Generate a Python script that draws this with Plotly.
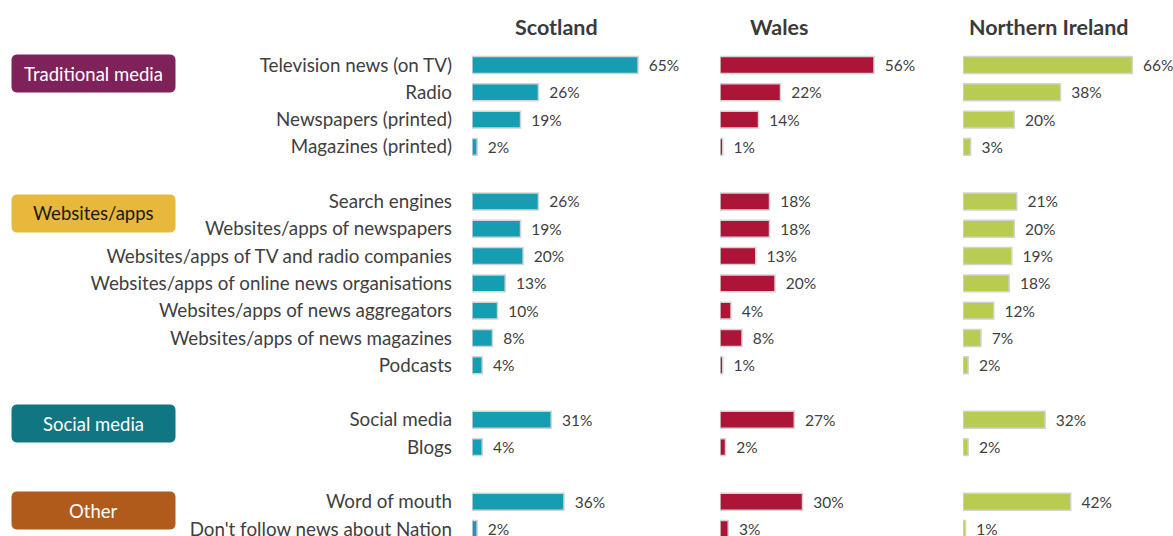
import plotly.graph_objects as go

# Survey: where people get news about their nation
groups = ["Traditional media", "Websites/apps", "Social media", "Other"]
group_items = [
    ["Television news (on TV)", "Radio", "Newspapers (printed)", "Magazines (printed)"],
    ["Search engines", "Websites/apps of newspapers", "Websites/apps of TV and radio companies",
     "Websites/apps of online news organisations", "Websites/apps of news aggregators",
     "Websites/apps of news magazines", "Podcasts"],
    ["Social media", "Blogs"],
    ["Word of mouth", "Don't follow news about Nation"],
]

nations = ["Scotland", "Wales", "Northern Ireland"]
scotland = [65, 26, 19, 2, 26, 19, 20, 13, 10, 8, 4, 31, 4, 36, 2]
wales = [56, 22, 14, 1, 18, 18, 13, 20, 4, 8, 1, 27, 2, 30, 3]
northern_ireland = [66, 38, 20, 3, 21, 20, 19, 18, 12, 7, 2, 32, 2, 42, 1]

nation_colors = ["#169db1", "#ad1538", "#b9cb51"]
group_colors = ["#80225a", "#e7b83b", "#0f7682", "#b05a1c"]
group_text_colors = ["white", "#1a1a1a", "white", "white"]

W, H = 1173, 536
FONT = "Lato"

# row positions: one blank row between groups
labels, rows = [], []
pos = 0
for items in group_items:
    for it in items:
        labels.append(it)
        rows.append(pos)
        pos += 1
    pos += 1

fig = go.Figure()
series = [scotland, wales, northern_ireland]
xaxes = ["x", "x2", "x3"]
for vals, color, xa, name in zip(series, nation_colors, xaxes, nations):
    fig.add_trace(go.Bar(
        x=vals, y=rows, orientation="h", name=name,
        xaxis=xa, yaxis="y",
        width=0.62,
        marker=dict(color=color, line=dict(color="#d3d3d3", width=1.5)),
        text=[f"{v}%" for v in vals], texttemplate="\u2002%{text}",
        textposition="outside", constraintext="none",
        textfont=dict(family=FONT, size=15.5, color="#404040"),
        cliponaxis=False, showlegend=False,
    ))

def px_x(p):
    return p / W

def px_y(p):
    return 1 - p / H

# subplot placement (pixels) and value ranges
panels = [(472, [0, 70], 2.555), (720, [0, 65], 2.75), (963, [0, 70], 2.565)]
for i, (x0, rng, scale) in enumerate(panels):
    key = "xaxis" if i == 0 else f"xaxis{i + 1}"
    x1 = x0 + (rng[1] - rng[0]) * scale
    fig.layout[key] = dict(domain=[px_x(x0), px_x(x1)], range=rng, visible=False,
                           anchor="y", fixedrange=True)

row_gap = (529 - 65) / 17
top = -65 / row_gap
bottom = (H - 65) / row_gap
fig.update_layout(
    yaxis=dict(range=[bottom, top], tickvals=rows, ticktext=labels, anchor="x",
               showgrid=False, zeroline=False, showline=False, ticks="",
               ticklabelstandoff=19, ticklabeloverflow="allow",
               tickfont=dict(family=FONT, size=18.8, color="#404040")),
)

# nation headers
header_x = [556, 779, 1049]
for name, hx in zip(nations, header_x):
    fig.add_annotation(x=px_x(hx), y=px_y(27), xref="paper", yref="paper",
                       xanchor="center", yanchor="middle",
                       text=f"<b>{name}</b>", showarrow=False,
                       font=dict(family=FONT, size=21.5, color="#3a3a3a"))

# group badges (rounded rectangles)
badge_top = [55, 195, 405, 492]
bx0, bx1, bh, r = 12, 175, 37, 5

def rounded_rect(x0, y0, x1, y1, rad):
    rx, ry = rad / W, rad / H
    X0, X1 = px_x(x0), px_x(x1)
    Y0, Y1 = px_y(y0), px_y(y1)  # Y0 top, Y1 bottom
    return (f"M {X0 + rx},{Y0} L {X1 - rx},{Y0} Q {X1},{Y0} {X1},{Y0 - ry} "
            f"L {X1},{Y1 + ry} Q {X1},{Y1} {X1 - rx},{Y1} "
            f"L {X0 + rx},{Y1} Q {X0},{Y1} {X0},{Y1 + ry} "
            f"L {X0},{Y0 - ry} Q {X0},{Y0} {X0 + rx},{Y0} Z")

for g, top_px, col, tcol in zip(groups, badge_top, group_colors, group_text_colors):
    fig.add_shape(type="path", xref="paper", yref="paper",
                  path=rounded_rect(bx0, top_px, bx1, top_px + bh, r),
                  fillcolor=col, line=dict(color=col, width=1), layer="below")
    fig.add_annotation(x=px_x((bx0 + bx1) / 2), y=px_y(top_px + bh / 2),
                       xref="paper", yref="paper", xanchor="center", yanchor="middle",
                       text=g, showarrow=False,
                       font=dict(family=FONT, size=18.5, color=tcol))

fig.update_layout(
    width=W, height=H,
    margin=dict(l=0, r=0, t=0, b=0, autoexpand=False),
    plot_bgcolor="rgba(0,0,0,0)", paper_bgcolor="white",
)

fig.write_html("out.html")
